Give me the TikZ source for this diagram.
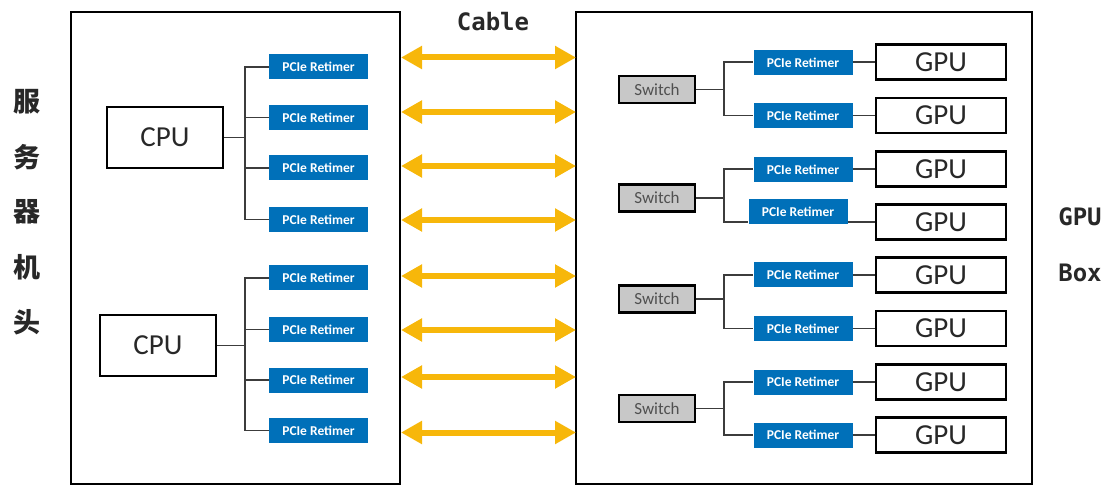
\documentclass[tikz,border=0pt]{standalone}
\usepackage{fontspec}
\setmainfont{Carlito}
\newfontfamily\hanzifont{Noto Sans CJK SC}
\newfontfamily\labelfont{DejaVu Sans Mono}
\usetikzlibrary{arrows.meta}

\definecolor{retblue}{RGB}{0,112,185}
\definecolor{cablegold}{RGB}{247,183,10}
\definecolor{swgray}{RGB}{200,200,200}
\definecolor{linegray}{RGB}{60,60,60}
\definecolor{textgray}{RGB}{40,40,40}

\tikzset{
  frame/.style={draw=black, line width=1.8pt},
  retimer/.style={fill=retblue, text=white, font=\fontsize{13.5}{15}\selectfont\bfseries,
    minimum width=99pt, minimum height=25pt, inner sep=0pt},
  chip/.style={draw=black, line width=2.2pt, text=textgray, font=\fontsize{29}{31}\selectfont, inner sep=0pt},
  switchbox/.style={draw=black, line width=2.6pt, fill=swgray, text={rgb,255:red,80;green,80;blue,80},
    font=\fontsize{17}{19}\selectfont, minimum width=76pt, minimum height=27pt, inner sep=0pt},
  link/.style={draw=linegray, line width=1.4pt},
  cable/.style={{Triangle[length=21pt,width=22pt]}-{Triangle[length=21pt,width=22pt]},
    draw=cablegold, line width=6pt},
  hanzi/.style={text=textgray, font=\hanzifont\bfseries\fontsize{27}{29}\selectfont},
  sidelabel/.style={text=textgray, font=\labelfont\bfseries\fontsize{24}{26}\selectfont},
}

\begin{document}
\begin{tikzpicture}[x=1pt, y=-1pt]
        \useasboundingbox (0,0) rectangle (1119,486);
        % host and gpu box outlines
        \draw[frame] (71,12) rectangle (400,484);
        \draw[frame] (576,12) rectangle (1032,484);
        \foreach \c [count=\i] in {服,务,器,机,头}
        \node[hanzi] (zh\i) at (27,47+55*\i) {\c};
        \node[sidelabel] (cablelbl) at (493,22) {Cable};
        \node[sidelabel] (gpulbl) at (1080,217) {GPU};
        \node[sidelabel] (boxlbl) at (1080,273) {Box};

        % host side
        \node[chip, minimum width=116pt, minimum height=61pt] (cpu1) at (165,137.5) {CPU};
        \node[chip, minimum width=116pt, minimum height=61pt] (cpu2) at (158,345.5) {CPU};
        \foreach \y [count=\i] in {67,117.5,168,219.5,278,329.5,380,430.5}
        \node[retimer] (lr\i) at (318.5,\y) {PCIe Retimer};
        \coordinate (hb1) at (245,137.5);
        \coordinate (hb2) at (245,345.5);
        \draw[link] (cpu1.east) -- (hb1);
        \draw[link] (cpu2.east) -- (hb2);
        \foreach \i in {1,...,4} \draw[link] (hb1) |- (lr\i.west);
        \foreach \i in {5,...,8} \draw[link] (hb2) |- (lr\i.west);

        % gpu box side
        \foreach \y [count=\i] in {62,115.5,169,222,275,328.5,382,435}
        \node[chip, minimum width=130pt, minimum height=35pt] (gpu\i) at (941,\y) {GPU};
        \foreach \y [count=\s] in {89.5,198,299,408.5} {
        \node[switchbox] (sw\s) at (657,\y) {Switch};
        \coordinate (sb\s) at (724,\y);
        \draw[link] (sw\s.east) -- (sb\s);
        }
        \foreach \x/\y [count=\i] in {803/62.5,803/115.5,803/169.5,798/212,803/275,803/328.5,803/382,803/435}
        \node[retimer] (rr\i) at (\x,\y) {PCIe Retimer};
        \foreach \i/\s in {1/1,2/1,3/2,4/2,5/3,6/3,7/4,8/4} {
        \draw[link] (sb\s) |- (rr\i.west |- gpu\i.west);
        \draw[link] (rr\i.east |- gpu\i.west) -- (gpu\i.west);
        }

        % cables
        \foreach \y [count=\i] in {57.5,112,166,220,276,330,377,432.5} {
        \coordinate (cl\i) at (401,\y);
        \coordinate (cr\i) at (576,\y);
        \draw[cable] (cl\i) -- (cr\i);
        }
\end{tikzpicture}
\end{document}
